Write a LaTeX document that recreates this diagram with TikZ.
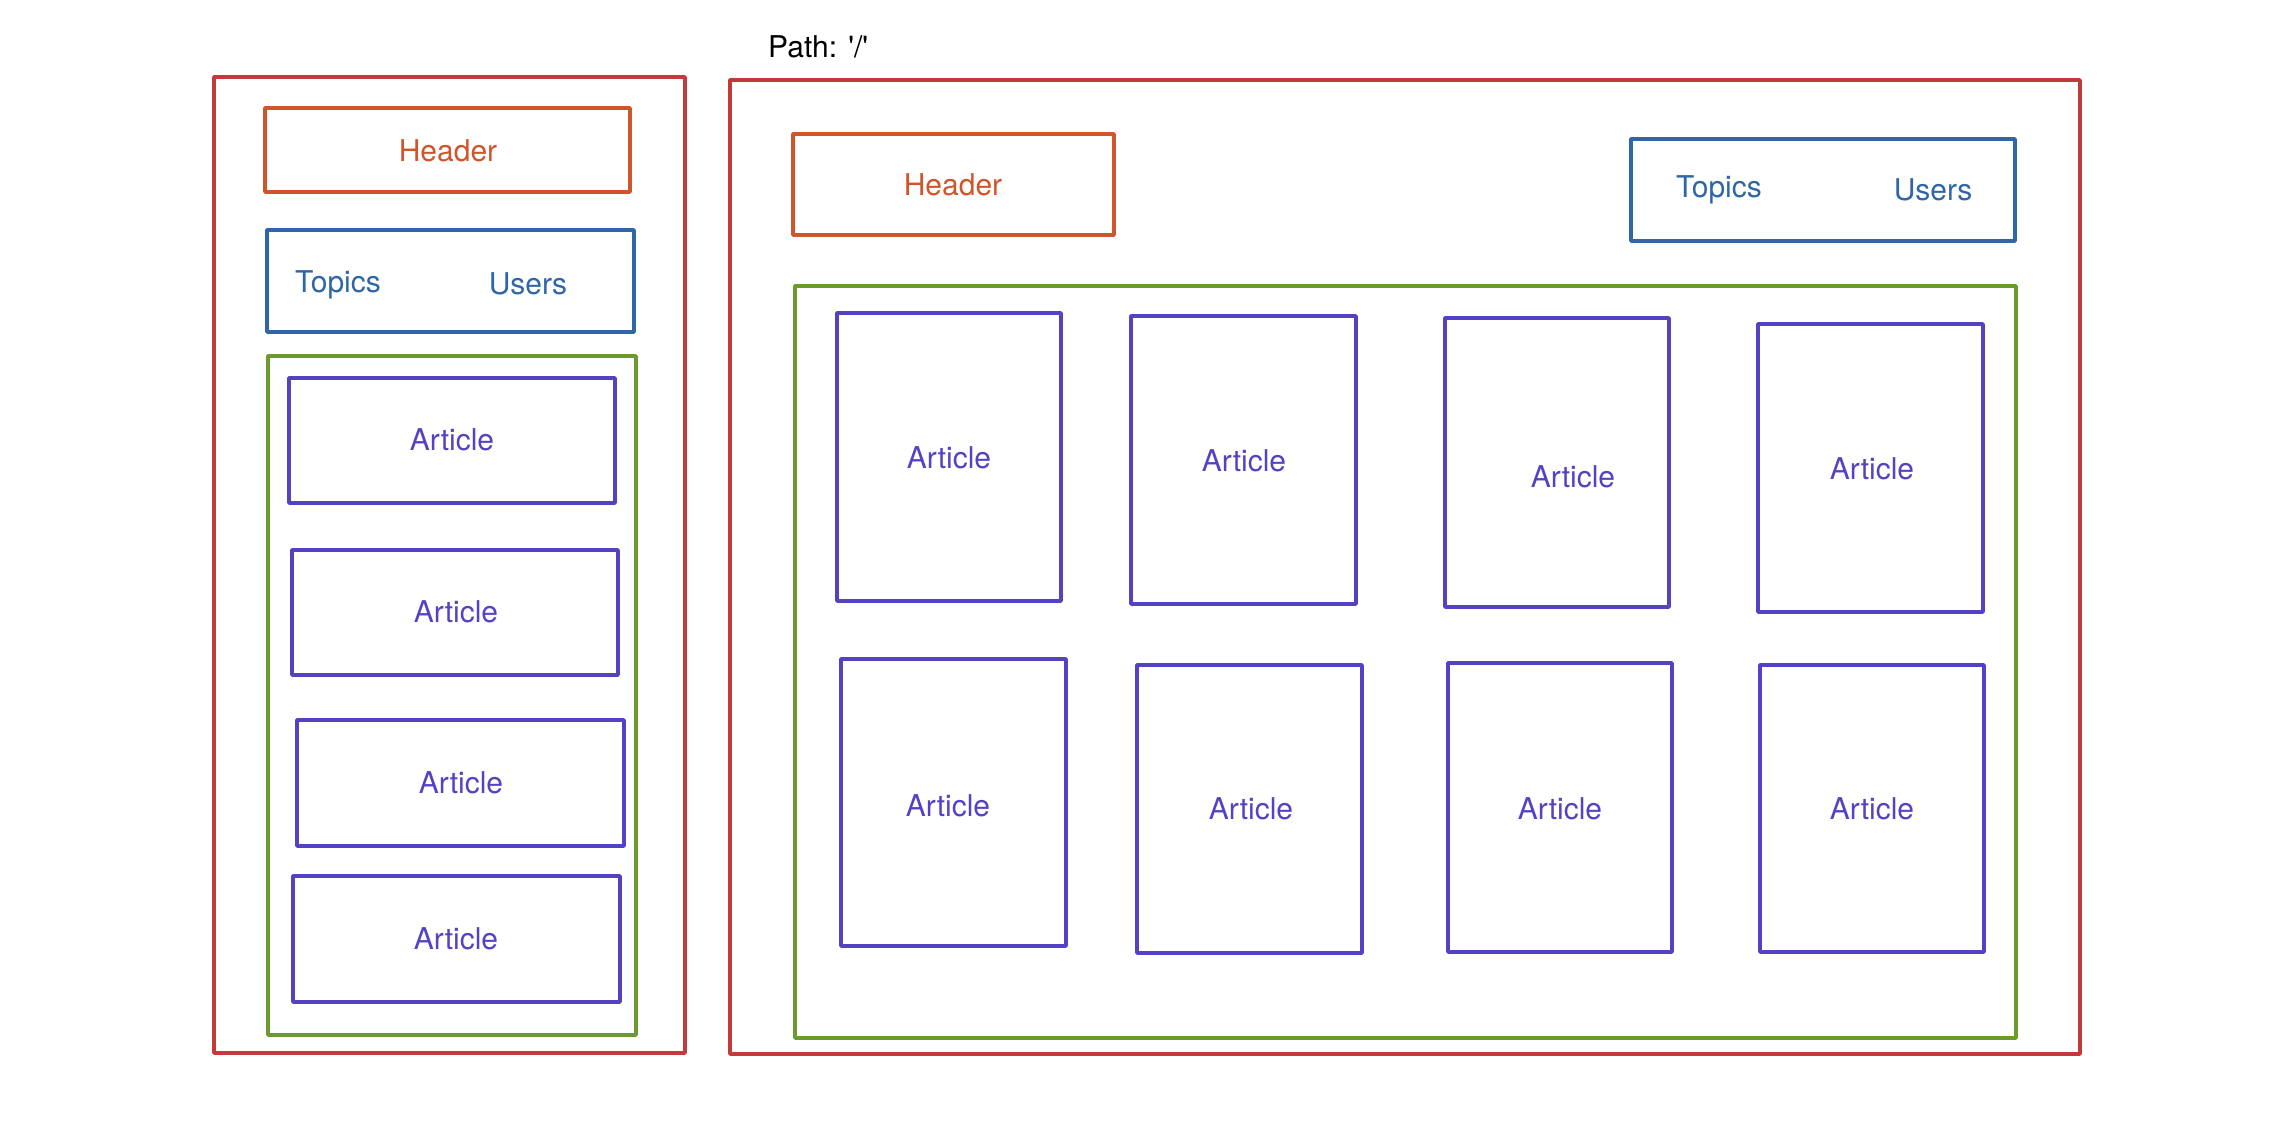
\documentclass[tikz,border=0pt]{standalone}
\usepackage{fontspec}
\setmainfont{TeX Gyre Heros}[Ligatures=TeXOff]
\usetikzlibrary{fit}
\definecolor{cred}{HTML}{C23B3A}
\definecolor{corange}{HTML}{D0552B}
\definecolor{cblue}{HTML}{2E66A8}
\definecolor{cgreen}{HTML}{6B9A2E}
\definecolor{cpurple}{HTML}{5442C4}
\tikzset{
  boxbase/.style={draw, line width=3.5pt, inner sep=0pt, line join=round},
  pagebox/.style={boxbase, cred},
  headbox/.style={boxbase, corange},
  navbox/.style={boxbase, cblue},
  listbox/.style={boxbase, cgreen},
  artbox/.style={boxbase, cpurple},
  lbl/.style={font=\fontsize{30}{36}\selectfont, inner sep=0pt},
  headtxt/.style={lbl, text=corange},
  navtxt/.style={lbl, text=cblue},
  arttxt/.style={lbl, text=cpurple},
}
\begin{document}
\begin{tikzpicture}[x=1pt,y=-1pt]
\useasboundingbox[fill=white] (0,0) rectangle (2286,1120);
% path label
\node[lbl, anchor=west] (path) at (768,47) {Path: '/'};
% left layout
\node[pagebox, fit={(214,77)(685,1053)}] (lpage) {};
\node[headbox, fit={(265,108)(630,192)}] (lhead) {};
\node[headtxt] (lheadt) at (448,151) {Header};
\node[navbox, fit={(267,230)(634,332)}] (lnav) {};
\node[navtxt] (ltopics) at (338,285) {Topics};
\node[navtxt] (lusers) at (528,284) {Users};
\node[listbox, fit={(268,356)(636,1035)}] (llist) {};
\node[artbox, fit={(289,378)(615,503)}] (la1) {};
\node[arttxt] (la1t) at (452,440) {Article};
\node[artbox, fit={(292,550)(618,675)}] (la2) {};
\node[arttxt] (la2t) at (456,612) {Article};
\node[artbox, fit={(297,720)(624,846)}] (la3) {};
\node[arttxt] (la3t) at (461,783) {Article};
\node[artbox, fit={(293,876)(620,1002)}] (la4) {};
\node[arttxt] (la4t) at (456,939) {Article};
% right layout
\node[pagebox, fit={(730,80)(2080,1054)}] (rpage) {};
\node[headbox, fit={(793,134)(1114,235)}] (rhead) {};
\node[headtxt] (rheadt) at (953,185) {Header};
\node[navbox, fit={(1631,139)(2015,241)}] (rnav) {};
\node[navtxt] (rtopics) at (1719,190) {Topics};
\node[navtxt] (rusers) at (1933,190) {Users};
\node[listbox, fit={(795,286)(2016,1038)}] (rlist) {};
\node[artbox, fit={(837,313)(1061,601)}] (ra1) {};
\node[arttxt] (ra1t) at (949,458) {Article};
\node[artbox, fit={(1131,316)(1356,604)}] (ra2) {};
\node[arttxt] (ra2t) at (1244,461) {Article};
\node[artbox, fit={(1445,318)(1669,607)}] (ra3) {};
\node[arttxt] (ra3t) at (1573,477) {Article};
\node[artbox, fit={(1758,324)(1983,612)}] (ra4) {};
\node[arttxt] (ra4t) at (1872,469) {Article};
\node[artbox, fit={(841,659)(1066,946)}] (ra5) {};
\node[arttxt] (ra5t) at (948,806) {Article};
\node[artbox, fit={(1137,665)(1362,953)}] (ra6) {};
\node[arttxt] (ra6t) at (1251,809) {Article};
\node[artbox, fit={(1448,663)(1672,952)}] (ra7) {};
\node[arttxt] (ra7t) at (1560,809) {Article};
\node[artbox, fit={(1760,665)(1984,952)}] (ra8) {};
\node[arttxt] (ra8t) at (1872,809) {Article};
\end{tikzpicture}
\end{document}
